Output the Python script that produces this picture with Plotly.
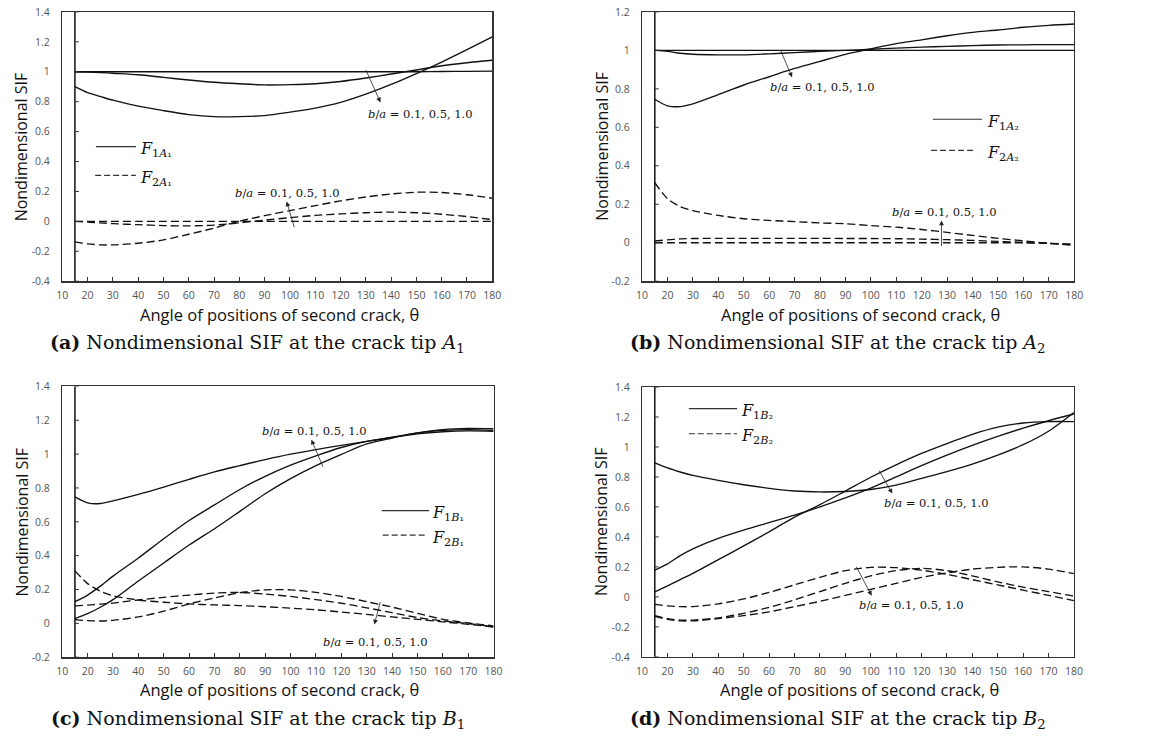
import plotly.graph_objects as go

W, H = 1151, 743

# ---------------- data ----------------
theta = [15, 20, 25, 30, 40, 50, 60, 70, 80, 90, 100, 110, 120, 130, 140, 150, 160, 170, 180]

# (a) crack tip A1
F1A1_01 = [1.0, 1.0, 1.0, 1.0, 1.0, 1.0, 1.0, 1.0, 1.0, 1.0, 1.0, 1.0, 1.0, 1.0, 1.0, 1.0, 1.002, 1.003, 1.004]
F1A1_05 = [1.0, 0.998, 0.995, 0.99, 0.98, 0.962, 0.945, 0.93, 0.92, 0.912, 0.914, 0.92, 0.935, 0.958, 0.985, 1.012, 1.04, 1.06, 1.077]
F1A1_10 = [0.90, 0.86, 0.835, 0.81, 0.77, 0.74, 0.714, 0.70, 0.70, 0.707, 0.73, 0.757, 0.795, 0.85, 0.915, 0.988, 1.065, 1.148, 1.233]
F2A1_01 = [0.0, 0.0, 0.0, 0.0, 0.0, 0.0, 0.0, 0.0, 0.0, 0.0, 0.0, 0.0, 0.0, 0.0, 0.0, 0.0, 0.0, 0.0, 0.0]
F2A1_05 = [0.0, -0.005, -0.01, -0.015, -0.022, -0.028, -0.03, -0.025, -0.01, 0.008, 0.025, 0.04, 0.05, 0.058, 0.062, 0.058, 0.048, 0.032, 0.012]
F2A1_10 = [-0.137, -0.15, -0.157, -0.157, -0.146, -0.124, -0.086, -0.045, 0.001, 0.038, 0.072, 0.105, 0.137, 0.163, 0.183, 0.195, 0.193, 0.178, 0.155]

# (b) crack tip A2
F1A2_01 = [1.0, 1.0, 1.0, 1.0, 1.0, 1.0, 1.0, 1.0, 1.0, 1.0, 1.0, 1.0, 1.0, 1.0, 1.0, 1.0, 1.0, 1.0, 1.0]
F1A2_05 = [1.0, 0.995, 0.985, 0.98, 0.977, 0.977, 0.982, 0.988, 0.995, 1.0, 1.006, 1.012, 1.017, 1.021, 1.025, 1.028, 1.029, 1.03, 1.03]
F1A2_10 = [0.746, 0.712, 0.708, 0.722, 0.77, 0.82, 0.863, 0.906, 0.943, 0.979, 1.008, 1.035, 1.055, 1.076, 1.094, 1.106, 1.12, 1.13, 1.137]
F2A2_01 = [0.0, 0.0, 0.0, 0.0, 0.0, 0.0, 0.0, 0.0, 0.0, 0.0, 0.0, 0.0, 0.0, 0.0, 0.0, 0.0, 0.0, -0.003, -0.008]
F2A2_05 = [0.009, 0.015, 0.02, 0.022, 0.023, 0.023, 0.023, 0.023, 0.023, 0.022, 0.022, 0.021, 0.019, 0.016, 0.012, 0.007, 0.002, -0.003, -0.01]
F2A2_10 = [0.312, 0.229, 0.188, 0.167, 0.142, 0.125, 0.116, 0.11, 0.103, 0.099, 0.089, 0.081, 0.069, 0.054, 0.038, 0.023, 0.01, -0.003, -0.013]

# (c) crack tip B1
F1B1_01 = [0.747, 0.712, 0.708, 0.724, 0.762, 0.805, 0.851, 0.895, 0.932, 0.968, 1.0, 1.027, 1.052, 1.075, 1.098, 1.12, 1.132, 1.137, 1.135]
F1B1_05 = [0.128, 0.167, 0.22, 0.279, 0.386, 0.50, 0.608, 0.70, 0.791, 0.869, 0.935, 0.99, 1.039, 1.075, 1.1, 1.125, 1.14, 1.145, 1.14]
F1B1_10 = [0.028, 0.057, 0.095, 0.14, 0.25, 0.357, 0.463, 0.559, 0.662, 0.766, 0.855, 0.932, 0.998, 1.06, 1.095, 1.125, 1.145, 1.152, 1.15]
F2B1_01 = [0.31, 0.235, 0.19, 0.163, 0.138, 0.125, 0.115, 0.109, 0.105, 0.098, 0.09, 0.08, 0.067, 0.053, 0.038, 0.024, 0.009, -0.005, -0.022]
F2B1_05 = [0.103, 0.108, 0.114, 0.12, 0.138, 0.154, 0.167, 0.179, 0.183, 0.173, 0.159, 0.14, 0.119, 0.092, 0.063, 0.034, 0.014, -0.001, -0.02]
F2B1_10 = [0.022, 0.016, 0.014, 0.018, 0.038, 0.072, 0.115, 0.15, 0.181, 0.198, 0.198, 0.183, 0.159, 0.128, 0.096, 0.059, 0.024, 0.003, -0.015]

# (d) crack tip B2
F1B2_01 = [0.894, 0.86, 0.833, 0.81, 0.777, 0.748, 0.724, 0.706, 0.70, 0.703, 0.716, 0.745, 0.79, 0.835, 0.885, 0.945, 1.015, 1.105, 1.23]
F1B2_05 = [0.178, 0.22, 0.275, 0.32, 0.39, 0.445, 0.495, 0.545, 0.60, 0.66, 0.725, 0.80, 0.875, 0.945, 1.01, 1.07, 1.125, 1.175, 1.22]
F1B2_10 = [0.034, 0.073, 0.115, 0.156, 0.248, 0.34, 0.434, 0.532, 0.615, 0.706, 0.798, 0.881, 0.957, 1.023, 1.084, 1.132, 1.16, 1.169, 1.169]
F2B2_01 = [-0.05, -0.06, -0.065, -0.065, -0.047, -0.014, 0.03, 0.08, 0.13, 0.175, 0.197, 0.195, 0.178, 0.15, 0.115, 0.08, 0.045, 0.01, -0.025]
F2B2_05 = [-0.125, -0.145, -0.155, -0.155, -0.14, -0.11, -0.07, -0.02, 0.035, 0.09, 0.14, 0.175, 0.19, 0.175, 0.14, 0.1, 0.065, 0.035, 0.005]
F2B2_10 = [-0.13, -0.15, -0.16, -0.16, -0.145, -0.125, -0.1, -0.065, -0.03, 0.01, 0.05, 0.09, 0.13, 0.16, 0.185, 0.197, 0.2, 0.185, 0.155]

# ticks
x_tickvals = [10, 20, 30, 40, 50, 60, 70, 80, 90, 100, 110, 120, 130, 140, 150, 160, 170, 180]
x_ticktext = ["10", "20", "30", "40", "50", "60", "70", "80", "90", "100", "110", "120", "130", "140", "150", "160", "170", "180"]
ya_tickvals = [-0.4, -0.2, 0, 0.2, 0.4, 0.6, 0.8, 1.0, 1.2, 1.4]
ya_ticktext = ["-0.4", "-0.2", "0", "0.2", "0.4", "0.6", "0.8", "1", "1.2", "1.4"]
yb_tickvals = [-0.2, 0, 0.2, 0.4, 0.6, 0.8, 1.0, 1.2]
yb_ticktext = ["-0.2", "0", "0.2", "0.4", "0.6", "0.8", "1", "1.2"]
yc_tickvals = [-0.2, 0, 0.2, 0.4, 0.6, 0.8, 1.0, 1.2, 1.4]
yc_ticktext = ["-0.2", "0", "0.2", "0.4", "0.6", "0.8", "1", "1.2", "1.4"]
yd_tickvals = ya_tickvals
yd_ticktext = ya_ticktext

ba_label = "<i>b</i>/<i>a</i> = 0.1, 0.5, 1.0"
x_title = "Angle of positions of second crack, θ"
y_title = "Nondimensional SIF"

# ---------------- layout helpers ----------------
def px_x(v):
    return v / W

def px_y(v):
    return 1 - v / H

SERIF = "DejaVu Serif"
SANS = "Open Sans"

panels = [
    dict(sfx="", box=(57, 492.7, 5.0, 279.5), yr=(-0.4, 1.4), yt=(ya_tickvals, ya_ticktext),
         F1=[F1A1_01, F1A1_05, F1A1_10], F2=[F2A1_01, F2A1_05, F2A1_10],
         cap="<b>(a)</b> Nondimensional SIF at the crack tip <i>A</i><sub>1</sub>",
         leg=("<i>F</i><sub>1<i>A</i>₁</sub>", "<i>F</i><sub>2<i>A</i>₁</sub>"),
         leg1=(23.3, 39.1, 0.499), leg2=(23.0, 39.1, 0.308), legx=40.0,
         notes=[(151.6, 0.718, 129.8, 1.021, 135.8, 0.795), (99.2, 0.188, 101.9, -0.049, 98.7, 0.133)],
         ytitle_x=15, xtitle_y=313, cap_y=343),
    dict(sfx="2", box=(644.5, 1082.3, 5.0, 279.5), yr=(-0.2, 1.2), yt=(yb_tickvals, yb_ticktext),
         F1=[F1A2_01, F1A2_05, F1A2_10], F2=[F2A2_01, F2A2_05, F2A2_10],
         cap="<b>(b)</b> Nondimensional SIF at the crack tip <i>A</i><sub>2</sub>",
         leg=("<i>F</i><sub>1<i>A</i>₂</sub>", "<i>F</i><sub>2<i>A</i>₂</sub>"),
         leg1=(124.4, 143.7, 0.642), leg2=(123.7, 141.4, 0.48), legx=145.0,
         notes=[(80.9, 0.812, 64.2, 1.009, 69.0, 0.86), (128.9, 0.162, 127.8, -0.025, 127.8, 0.116)],
         ytitle_x=603, xtitle_y=313, cap_y=343),
    dict(sfx="3", box=(57, 494.0, 386.7, 662.7), yr=(-0.2, 1.4), yt=(yc_tickvals, yc_ticktext),
         F1=[F1B1_01, F1B1_05, F1B1_10], F2=[F2B1_01, F2B1_05, F2B1_10],
         cap="<b>(c)</b> Nondimensional SIF at the crack tip <i>B</i><sub>1</sub>",
         leg=("<i>F</i><sub>1<i>B</i>₁</sub>", "<i>F</i><sub>2<i>B</i>₁</sub>"),
         leg1=(135.9, 154.6, 0.666), leg2=(136.3, 154.0, 0.521), legx=154.8,
         notes=[(109.4, 1.139, 113.0, 0.917, 108.2, 1.085), (133.3, -0.111, 135.5, 0.134, 133.0, -0.007)],
         ytitle_x=16, xtitle_y=696, cap_y=726),
    dict(sfx="4", box=(644.5, 1082.0, 387.3, 662.3), yr=(-0.4, 1.4), yt=(yd_tickvals, yd_ticktext),
         F1=[F1B2_01, F1B2_05, F1B2_10], F2=[F2B2_01, F2B2_05, F2B2_10],
         cap="<b>(d)</b> Nondimensional SIF at the crack tip <i>B</i><sub>2</sub>",
         leg=("<i>F</i><sub>1<i>B</i>₂</sub>", "<i>F</i><sub>2<i>B</i>₂</sub>"),
         leg1=(28.4, 47.4, 1.256), leg2=(28.4, 47.4, 1.088), legx=48.0,
         notes=[(126.0, 0.623, 103.0, 0.852, 108.5, 0.689), (116.2, -0.053, 94.0, 0.211, 100.4, 0.008)],
         ytitle_x=603, xtitle_y=696, cap_y=726),
]

fig = go.Figure()
layout = dict(width=W, height=H, margin=dict(l=0, r=0, t=0, b=0),
              paper_bgcolor="white", plot_bgcolor="white", showlegend=False)
shapes = []
annotations = []

DASH = "8px,4px"
LINE_C = "#111111"
TICK_FONT = dict(family=SANS, size=10.5, color="#555")

for p in panels:
    s = p["sfx"]
    xa, ya = "x" + s, "y" + s
    left, right, top, bottom = p["box"]
    layout["xaxis" + s] = dict(
        domain=[px_x(left), px_x(right)], anchor=ya, range=[10, 180],
        tickmode="array", tickvals=x_tickvals, ticktext=x_ticktext,
        ticks="inside", ticklen=4, tickwidth=1, tickcolor="#333",
        showline=True, mirror=True, linecolor="#333", linewidth=1.3,
        showgrid=False, zeroline=False,
        tickfont=TICK_FONT, ticklabelstandoff=4,
    )
    layout["yaxis" + s] = dict(
        domain=[px_y(bottom), px_y(top)], anchor=xa, range=list(p["yr"]),
        tickmode="array", tickvals=p["yt"][0], ticktext=p["yt"][1],
        ticks="", showline=True, mirror=True, linecolor="#333", linewidth=1.3,
        showgrid=False, zeroline=False,
        tickfont=TICK_FONT, ticklabelstandoff=9,
    )
    # curves
    for ser in p["F1"]:
        fig.add_trace(go.Scatter(x=theta, y=ser, mode="lines", xaxis=xa, yaxis=ya, hoverinfo="skip",
                                 line=dict(color=LINE_C, width=1.35, shape="spline", smoothing=0.8)))
    for ser in p["F2"]:
        fig.add_trace(go.Scatter(x=theta, y=ser, mode="lines", xaxis=xa, yaxis=ya, hoverinfo="skip",
                                 line=dict(color=LINE_C, width=1.35, dash=DASH, shape="spline", smoothing=0.8)))
    # vertical axis line at theta = 15
    shapes.append(dict(type="line", xref=xa, yref=ya + " domain", x0=15, x1=15, y0=0, y1=1,
                       line=dict(color="#111", width=1.5)))
    for tv in p["yt"][0]:
        shapes.append(dict(type="line", xref=xa, yref=ya, xsizemode="pixel", xanchor=15,
                           x0=0, x1=4, y0=tv, y1=tv, line=dict(color="#333", width=1)))
    # legend samples
    x0, x1, yv = p["leg1"]
    shapes.append(dict(type="line", xref=xa, yref=ya, x0=x0, x1=x1, y0=yv, y1=yv,
                       line=dict(color="#333", width=1.2)))
    annotations.append(dict(xref=xa, yref=ya, x=p["legx"], y=yv, text=p["leg"][0], showarrow=False,
                            xanchor="left", yanchor="middle", yshift=-3,
                            font=dict(family=SERIF, size=16, color="#111")))
    x0, x1, yv = p["leg2"]
    shapes.append(dict(type="line", xref=xa, yref=ya, x0=x0, x1=x1, y0=yv, y1=yv,
                       line=dict(color="#333", width=1.2, dash="6px,3px")))
    annotations.append(dict(xref=xa, yref=ya, x=p["legx"], y=yv, text=p["leg"][1], showarrow=False,
                            xanchor="left", yanchor="middle", yshift=-3,
                            font=dict(family=SERIF, size=16, color="#111")))
    # b/a notes + arrows
    for (tx, ty, ax_, ay_, hx, hy) in p["notes"]:
        annotations.append(dict(xref=xa, yref=ya, x=tx, y=ty, text=ba_label, showarrow=False,
                                xanchor="center", yanchor="middle",
                                font=dict(family=SERIF, size=11.5, color="#111")))
        annotations.append(dict(xref=xa, yref=ya, x=hx, y=hy, ax=ax_, ay=ay_, axref=xa, ayref=ya,
                                text="", showarrow=True, arrowhead=2, arrowsize=1.2, arrowwidth=0.8,
                                arrowcolor="#222"))
    # axis titles
    cx = (left + right) / 2
    annotations.append(dict(xref="paper", yref="paper", x=px_x(cx + 2), y=px_y(p["xtitle_y"]),
                            text=x_title, showarrow=False, xanchor="center", yanchor="middle",
                            font=dict(family=SANS, size=16.5, color="#111")))
    annotations.append(dict(xref="paper", yref="paper", x=px_x(p["ytitle_x"]), y=px_y((top + bottom) / 2),
                            text=y_title, showarrow=False, xanchor="center", yanchor="middle",
                            textangle=-90, font=dict(family=SANS, size=16, color="#111")))
    # caption
    annotations.append(dict(xref="paper", yref="paper", x=px_x(cx - 20), y=px_y(p["cap_y"]),
                            text=p["cap"], showarrow=False, xanchor="center", yanchor="middle",
                            font=dict(family=SERIF, size=19, color="#111")))

layout["shapes"] = shapes
layout["annotations"] = annotations
layout["hovermode"] = False
fig.update_layout(**layout)
fig.write_html("out.html", config={"displayModeBar": False, "staticPlot": True},
               post_script="document.body.style.margin='0';document.body.style.padding='0';document.body.style.overflow='hidden';")
